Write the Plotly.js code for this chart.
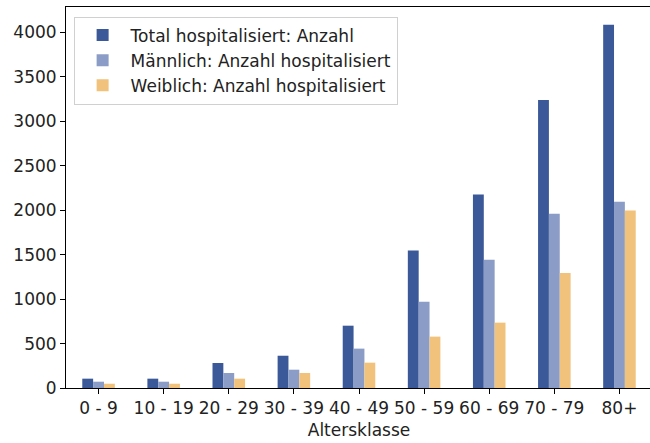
<!DOCTYPE html>
<html>
<head>
<meta charset="utf-8">
<script src="https://cdn.plot.ly/plotly-3.0.1.min.js"></script>
<style>html,body{margin:0;padding:0;background:#fff;overflow:hidden;width:650px;height:443px;}#chart{width:652px;height:443px;}</style>
</head>
<body>
<div id="chart"></div>
<script>
const categories = ["0 - 9", "10 - 19", "20 - 29", "30 - 39", "40 - 49", "50 - 59", "60 - 69", "70 - 79", "80+"];
const totalValues = [105, 105, 281, 363, 701, 1548, 2178, 3240, 4087];
const maleValues = [71, 71, 169, 206, 443, 971, 1443, 1961, 2096];
const femaleValues = [48, 48, 105, 169, 285, 578, 735, 1295, 1998];
const seriesNames = ["Total hospitalisiert: Anzahl", "Männlich: Anzahl hospitalisiert", "Weiblich: Anzahl hospitalisiert"];
const yTicks = [0, 500, 1000, 1500, 2000, 2500, 3000, 3500, 4000];
const xTitle = "Altersklasse";

const colors = ["#3b5998", "#8b9dc7", "#f1c27b"];
const font = "DejaVu Sans, sans-serif";
const fs = 17;

const traces = [totalValues, maleValues, femaleValues].map((vals, i) => ({
  type: "bar",
  x: categories,
  y: vals,
  name: seriesNames[i],
  legendgroup: "g" + i,
  marker: {color: colors[i], line: {width: 0}},
  hoverinfo: "none"
}));

const layout = {
  width: 652,
  height: 443,
  margin: {l: 66, r: 0, t: 7, b: 55},
  paper_bgcolor: "#fff",
  plot_bgcolor: "#fff",
  barmode: "group",
  bargap: 0.5,
  bargroupgap: 0,
  font: {family: font, size: fs, color: "#222"},
  xaxis: {
    type: "category",
    range: [-0.5, 8.5],
    showline: true, mirror: true, linecolor: "#000", linewidth: 1,
    ticks: "outside", ticklen: 5, tickcolor: "#000", tickwidth: 1,
    showgrid: false, zeroline: false,
    tickfont: {family: font, size: fs, color: "#222"},
    title: {text: xTitle, font: {family: font, size: fs, color: "#222"}, standoff: 6}
  },
  yaxis: {
    range: [0, 4286],
    tickvals: yTicks,
    ticktext: yTicks.map(String),
    showline: true, mirror: false, linecolor: "#000", linewidth: 1,
    ticks: "outside", ticklen: 5, tickcolor: "#000", tickwidth: 1,
    showgrid: false, zeroline: false,
    tickfont: {family: font, size: fs, color: "#222"}
  },
  showlegend: true,
  legend: {
    x: 0.013, y: 0.975, xanchor: "left", yanchor: "top",
    bgcolor: "rgba(255,255,255,0.85)",
    bordercolor: "#d0d0d0", borderwidth: 1,
    font: {family: font, size: fs, color: "#222"},
    traceorder: "grouped",
    tracegroupgap: 0,
    itemwidth: 46
  }
};

Plotly.newPlot("chart", traces, layout, {displayModeBar: false, staticPlot: true});
</script>
</body>
</html>
